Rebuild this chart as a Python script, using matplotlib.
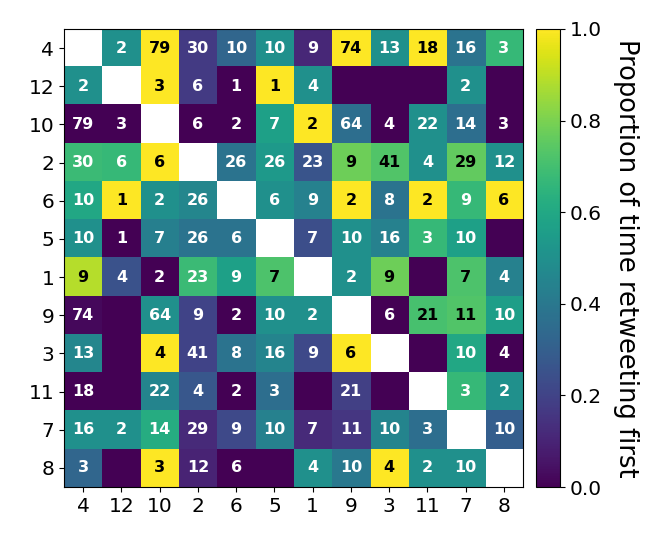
import matplotlib
matplotlib.use('Agg')
import matplotlib.pyplot as plt
import numpy as np

labels = ['4', '12', '10', '2', '6', '5', '1', '9', '3', '11', '7', '8']

# proportion of time retweeting first (row vs column), nan on diagonal
props = [
    [np.nan, 0.50, 1.00, 0.17, 0.33, 0.50, 0.11, 1.00, 0.50, 1.00, 0.38, 0.67],
    [0.50, np.nan, 1.00, 0.17, 0.00, 1.00, 0.50, 0.00, 0.00, 0.00, 0.50, 0.00],
    [0.00, 0.00, np.nan, 0.00, 0.00, 0.57, 1.00, 0.36, 0.00, 0.50, 0.36, 0.00],
    [0.68, 0.67, 1.00, np.nan, 0.38, 0.54, 0.26, 0.78, 0.73, 0.50, 0.76, 0.50],
    [0.60, 1.00, 0.50, 0.46, np.nan, 0.50, 0.44, 1.00, 0.38, 1.00, 0.67, 1.00],
    [0.50, 0.00, 0.43, 0.38, 0.38, np.nan, 0.24, 0.50, 0.44, 0.67, 0.57, 0.00],
    [0.89, 0.25, 0.00, 0.68, 0.57, 0.72, np.nan, 0.50, 0.78, 0.00, 0.72, 0.44],
    [0.02, 0.00, 0.50, 0.20, 0.00, 0.50, 0.50, np.nan, 0.00, 0.71, 0.73, 0.56],
    [0.46, 0.00, 1.00, 0.20, 0.38, 0.45, 0.22, 1.00, np.nan, 0.00, 0.60, 0.00],
    [0.00, 0.00, 0.45, 0.27, 0.00, 0.36, 0.00, 0.19, 0.00, np.nan, 0.67, 0.50],
    [0.50, 0.50, 0.62, 0.12, 0.22, 0.44, 0.12, 0.16, 0.45, 0.36, np.nan, 0.30],
    [0.33, 0.00, 1.00, 0.10, 0.00, 0.00, 0.50, 0.40, 1.00, 0.50, 0.50, np.nan],
]

# number of co-retweets per pair (0 = no text)
counts = [
    [0, 2, 79, 30, 10, 10, 9, 74, 13, 18, 16, 3],
    [2, 0, 3, 6, 1, 1, 4, 0, 0, 0, 2, 0],
    [79, 3, 0, 6, 2, 7, 2, 64, 4, 22, 14, 3],
    [30, 6, 6, 0, 26, 26, 23, 9, 41, 4, 29, 12],
    [10, 1, 2, 26, 0, 6, 9, 2, 8, 2, 9, 6],
    [10, 1, 7, 26, 6, 0, 7, 10, 16, 3, 10, 0],
    [9, 4, 2, 23, 9, 7, 0, 2, 9, 0, 7, 4],
    [74, 0, 64, 9, 2, 10, 2, 0, 6, 21, 11, 10],
    [13, 0, 4, 41, 8, 16, 9, 6, 0, 0, 10, 4],
    [18, 0, 22, 4, 2, 3, 0, 21, 0, 0, 3, 2],
    [16, 2, 14, 29, 9, 10, 7, 11, 10, 3, 0, 10],
    [3, 0, 3, 12, 6, 0, 4, 10, 4, 2, 10, 0],
]

data = np.array(props, dtype=float)
n = len(labels)

fig = plt.figure(figsize=(6.64, 5.45), dpi=100)
ax = fig.add_axes([0.0964, 0.1064, 0.6913, 0.8404])
cax = fig.add_axes([0.8072, 0.1064, 0.0361, 0.8404])

im = ax.imshow(data, cmap='viridis', vmin=0, vmax=1, aspect='auto')

for i in range(n):
    for j in range(n):
        c = counts[i][j]
        if c > 0 and not np.isnan(data[i, j]):
            col = 'black' if data[i, j] > 0.7 else 'white'
            ax.text(j, i, str(c), ha='center', va='center', color=col,
                    fontsize=11.5, fontweight='bold')

ax.set_xticks(range(n))
ax.set_yticks(range(n))
ax.set_xticklabels(labels, fontsize=14.5)
ax.set_yticklabels(labels, fontsize=14.5)

cb = fig.colorbar(im, cax=cax)
cb.ax.tick_params(labelsize=14.5)
cb.set_label('Proportion of time retweeting first', rotation=270, fontsize=18.5, labelpad=27)

plt.savefig('out.png', dpi=100)
